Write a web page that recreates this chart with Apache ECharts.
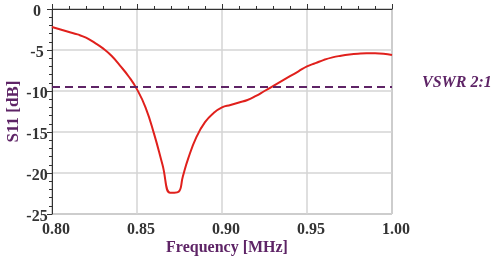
<!DOCTYPE html>
<html><head><meta charset="utf-8">
<script src="https://cdn.jsdelivr.net/npm/echarts@6/dist/echarts.min.js"></script>
<style>html,body{margin:0;padding:0;background:#fff}#c{width:495px;height:261px}</style>
</head><body><div id="c"></div>
<script>
const freq = [0.800,0.805,0.810,0.815,0.820,0.825,0.830,0.835,0.840,0.845,0.850,0.855,0.860,0.865,0.8695,0.872,0.8745,0.877,0.880,0.885,0.890,0.895,0.900,0.905,0.910,0.915,0.920,0.925,0.930,0.935,0.940,0.945,0.950,0.955,0.960,0.965,0.970,0.975,0.980,0.985,0.990,0.995,1.000];
const s11 = [-2.2,-2.5,-2.8,-3.1,-3.5,-4.1,-4.8,-5.7,-6.9,-8.2,-9.8,-12.0,-15.2,-19.0,-22.4,-22.4,-22.3,-20.4,-18.3,-15.6,-13.8,-12.7,-12.0,-11.7,-11.4,-11.1,-10.6,-10.0,-9.4,-8.8,-8.2,-7.6,-7.0,-6.6,-6.2,-5.9,-5.7,-5.55,-5.45,-5.4,-5.4,-5.45,-5.6];
const vswrLevel = -9.54;
const vswrLabel = 'VSWR 2:1';
const xTicks = [0.80, 0.85, 0.90, 0.95, 1.00];
const yTicks = [0, -5, -10, -15, -20, -25];

const chart = echarts.init(document.getElementById('c'), null, {renderer: 'canvas'});
const serif = '"Liberation Serif","Times New Roman",serif';
const purple = '#5e2466';
chart.setOption({
  animation: false,
  grid: {left: 52, right: 103, top: 9, bottom: 47, show: true, borderColor: '#777', borderWidth: 1,
    containLabel: false, outerBoundsMode: 'none'},
  xAxis: {
    type: 'value', min: 0.80, max: 1.00, interval: 0.05,
    name: 'Frequency [MHz]', nameLocation: 'middle', nameGap: 26, nameMoveOverlap: false,
    nameTextStyle: {color: purple, fontFamily: serif, fontWeight: 'bold', fontSize: 16, padding: [0, 0, 0, 10]},
    axisLine: {lineStyle: {color: '#333'}},
    axisTick: {inside: true, length: 5, lineStyle: {color: '#333'}},
    minorTick: {show: true, splitNumber: 5, length: 3, lineStyle: {color: '#333'}},
    splitLine: {show: true, lineStyle: {color: '#d4d4d4', width: 1.5}},
    axisLabel: {color: '#333', fontFamily: serif, fontWeight: 'bold', fontSize: 16, margin: 8,
      padding: [0, 0, 0, 8], formatter: v => v.toFixed(2)}
  },
  yAxis: {
    type: 'value', min: -25, max: 0, interval: 5,
    name: 'S11 [dB]', nameLocation: 'middle', nameGap: 30, nameRotate: 90, nameMoveOverlap: false,
    nameTextStyle: {color: purple, fontFamily: serif, fontWeight: 'bold', fontSize: 17},
    axisLine: {show: true, lineStyle: {color: '#333'}},
    axisTick: {show: true, length: 5, lineStyle: {color: '#333'}},
    minorTick: {show: true, splitNumber: 5, length: 3, lineStyle: {color: '#333'}},
    splitLine: {show: true, lineStyle: {color: '#d4d4d4', width: 1.5}},
    axisLabel: {color: '#333', fontFamily: serif, fontWeight: 'bold', fontSize: 16, margin: 15,
      align: 'center', verticalAlign: 'top', lineHeight: 5}
  },
  series: [{
    type: 'line', data: freq.map((f, i) => [f, s11[i]]),
    showSymbol: false, smooth: 0.5,
    lineStyle: {color: '#e0201c', width: 2},
    markLine: {
      silent: true, symbol: 'none',
      lineStyle: {color: purple, type: [8, 5], width: 2},
      label: {show: true, position: 'end', formatter: vswrLabel, color: purple,
        fontFamily: serif, fontStyle: 'italic', fontWeight: 'bold', fontSize: 16,
        distance: 30, offset: [0, -4]},
      data: [{yAxis: vswrLevel}]
    }
  }]
});
</script></body></html>
